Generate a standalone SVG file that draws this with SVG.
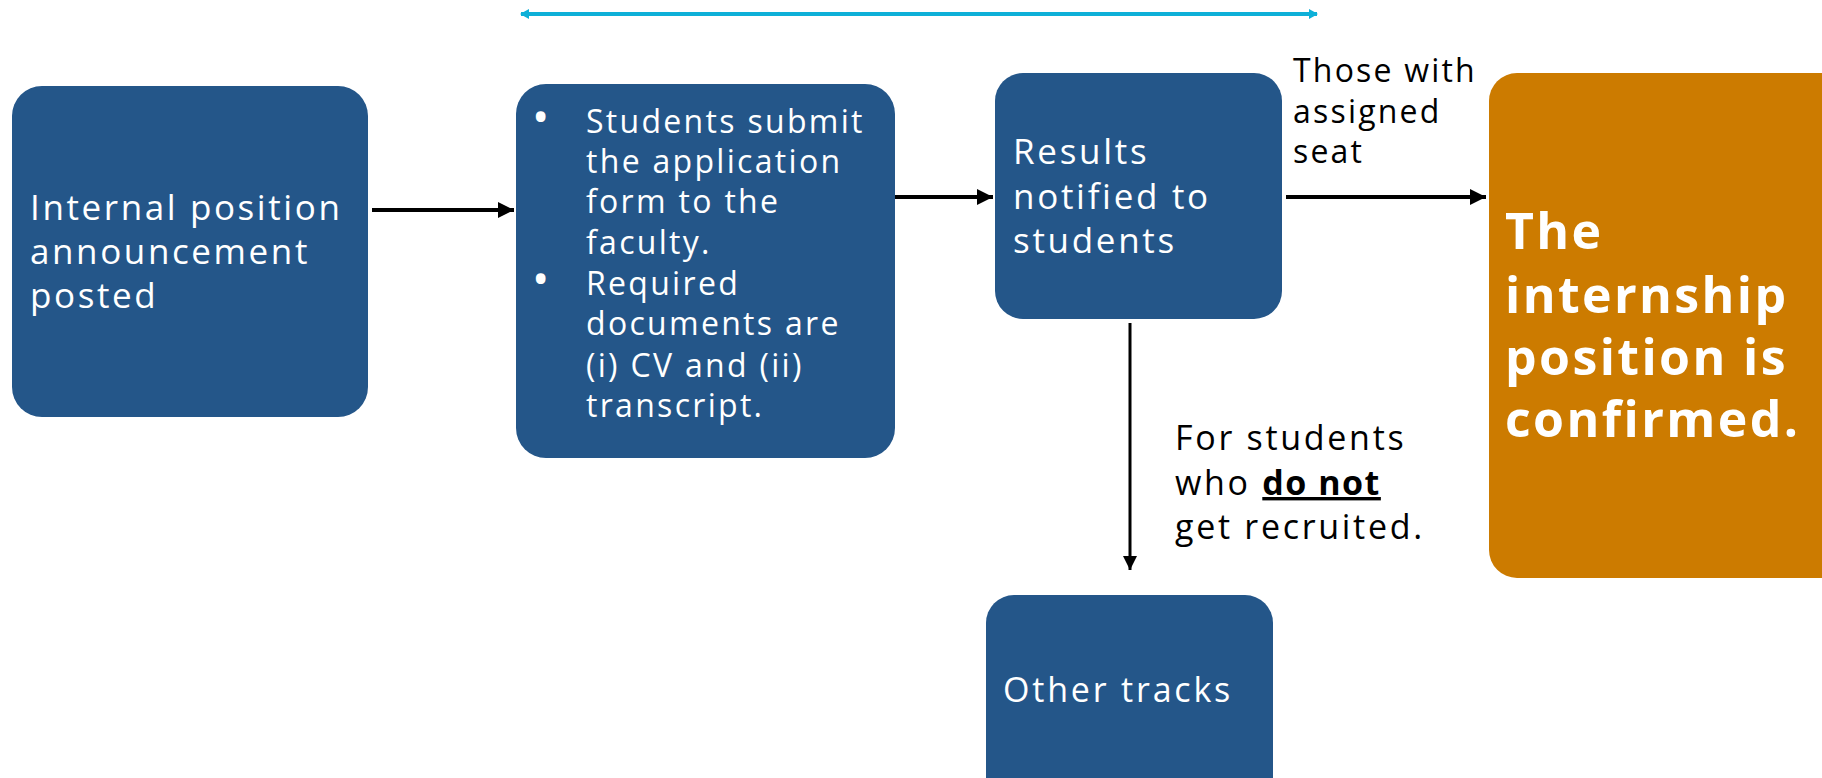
<svg xmlns="http://www.w3.org/2000/svg" width="1822" height="778" viewBox="0 0 1822 778">
<style>
.box{fill:#245689;}
.orange{fill:#CC7B00;}
.wt{fill:#ffffff;font-family:"Open Sans","Liberation Sans",sans-serif;}
.bt{fill:#000000;font-family:"Open Sans","Liberation Sans",sans-serif;}
.conn{stroke:#000;fill:none;}
</style>
<defs>
<marker id="ah" markerUnits="userSpaceOnUse" markerWidth="18" markerHeight="16" refX="16" refY="8" orient="auto"><path d="M0,0 L16,8 L0,16 Z" fill="#000"/></marker>
<marker id="ahs" markerUnits="userSpaceOnUse" markerWidth="14" markerHeight="16" refX="14" refY="7" orient="auto"><path d="M0,0 L14,7 L0,14 Z" fill="#000"/></marker>
<marker id="cy" markerUnits="userSpaceOnUse" markerWidth="10" markerHeight="10" refX="8" refY="5" orient="auto-start-reverse"><path d="M0,0 L9,5 L0,10 Z" fill="#0EB0D8"/></marker>
</defs>
<g id="connectors">
<line x1="521" y1="14" x2="1317" y2="14" stroke="#0EB0D8" stroke-width="4" marker-start="url(#cy)" marker-end="url(#cy)"/>
<line class="conn" x1="372" y1="210" x2="514" y2="210" stroke-width="4" marker-end="url(#ah)"/>
<line class="conn" x1="895" y1="197" x2="993" y2="197" stroke-width="4" marker-end="url(#ah)"/>
<line class="conn" x1="1286" y1="197" x2="1486" y2="197" stroke-width="4" marker-end="url(#ah)"/>
<line class="conn" x1="1130" y1="323" x2="1130" y2="570" stroke-width="3" marker-end="url(#ahs)"/>
<text class="bt" font-size="32" letter-spacing="2.2"><tspan x="1293" y="82">Those with</tspan><tspan x="1293" y="123">assigned</tspan><tspan x="1293" y="163">seat</tspan></text>
<text class="bt" font-size="34" letter-spacing="2.7"><tspan x="1175" y="450">For students</tspan><tspan x="1175" y="495">who <tspan font-weight="bold" text-decoration="underline" letter-spacing="1.5">do not</tspan></tspan><tspan x="1175" y="539">get recruited.</tspan></text>
</g>
<g id="node-announcement">
<rect class="box" x="12" y="86" width="356" height="331" rx="30"/>
<text class="wt" font-size="35" letter-spacing="2.6"><tspan x="30" y="220">Internal position</tspan><tspan x="30" y="264">announcement</tspan><tspan x="30" y="308">posted</tspan></text>
</g>
<g id="node-submit">
<rect class="box" x="516" y="84" width="379" height="374" rx="30"/>
<text class="wt" font-size="46"><tspan x="532" y="133">•</tspan><tspan x="532" y="295">•</tspan></text>
<text class="wt" font-size="32" letter-spacing="2.3">
<tspan x="586" y="133">Students submit</tspan><tspan x="586" y="173">the application</tspan><tspan x="586" y="213">form to the</tspan><tspan x="586" y="254">faculty.</tspan>
<tspan x="586" y="295">Required</tspan><tspan x="586" y="335">documents are</tspan><tspan x="586" y="377">(i) CV and (ii)</tspan><tspan x="586" y="417">transcript.</tspan>
</text>
</g>
<g id="node-results">
<rect class="box" x="995" y="73" width="287" height="246" rx="28"/>
<text class="wt" font-size="35" letter-spacing="2.7"><tspan x="1013" y="164">Results</tspan><tspan x="1013" y="209">notified to</tspan><tspan x="1013" y="253">students</tspan></text>
</g>
<g id="node-confirmed">
<rect class="orange" x="1489" y="73" width="370" height="505" rx="28"/>
<text class="wt" font-size="50" font-weight="bold" letter-spacing="2.4"><tspan x="1505" y="249">The</tspan><tspan x="1505" y="313">internship</tspan><tspan x="1505" y="375">position is</tspan><tspan x="1505" y="437">confirmed.</tspan></text>
</g>
<g id="node-other">
<rect class="box" x="986" y="595" width="287" height="220" rx="28"/>
<text class="wt" font-size="34" letter-spacing="2.8"><tspan x="1003" y="702">Other tracks</tspan></text>
</g>
</svg>
